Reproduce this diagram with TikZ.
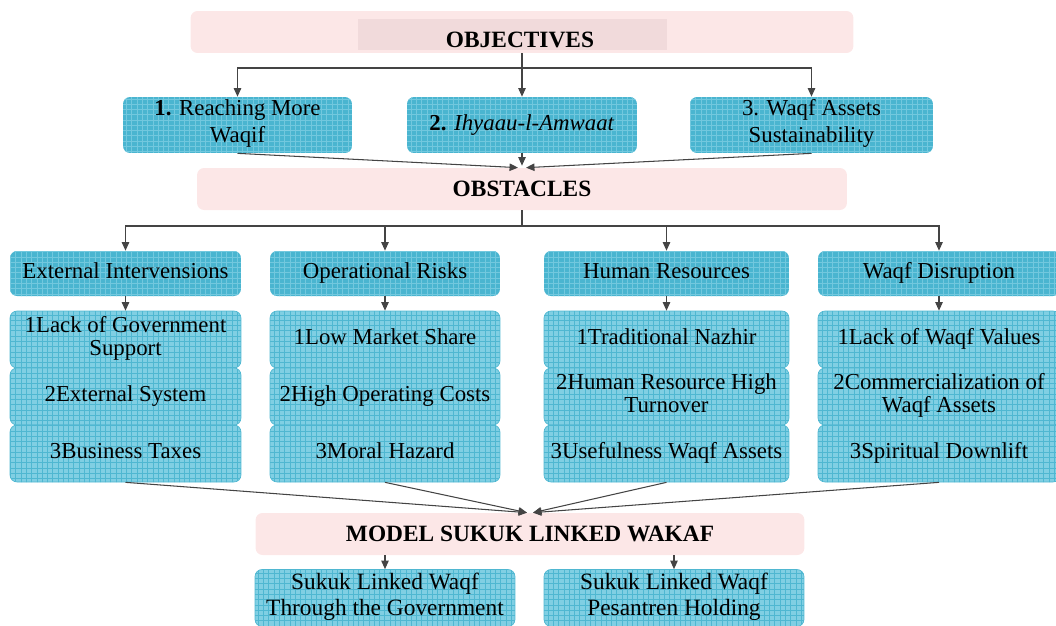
\documentclass[tikz,border=0pt]{standalone}
\usepackage{fontspec}
\setmainfont{Liberation Serif}
\usetikzlibrary{arrows.meta,patterns}
\definecolor{headpink}{HTML}{FCE7E7}
\definecolor{innerpink}{HTML}{F1DADB}
\definecolor{goalcyan}{HTML}{4AB5D0}
\definecolor{goalgrid}{HTML}{72C8DE}
\definecolor{itemcyan}{HTML}{80CFE3}
\definecolor{itemgrid}{HTML}{4FB7D1}
\definecolor{edgegray}{HTML}{444444}
\begin{document}
\begin{tikzpicture}[x=0.02cm,y=-0.02cm,>={Triangle[length=4.8pt,width=4.2pt]}]
        \tikzstyle{head}=[rounded corners=4pt,fill=headpink,inner sep=0pt,font=\fontsize{13.3}{15}\selectfont\bfseries]
        \tikzstyle{goal}=[rounded corners=4pt,preaction={fill=goalcyan},pattern=grid,pattern color=goalgrid,align=center,inner sep=0pt,execute at begin node=\strut,execute at end node=\strut,font=\fontsize{13}{15.5}\selectfont]
        \tikzstyle{item}=[rounded corners=4pt,draw=itemgrid,line width=0.4pt,preaction={fill=itemcyan},pattern=grid,pattern color=itemgrid,align=center,inner sep=0pt,minimum height=1.14cm,execute at begin node=\strut,execute at end node=\strut,font=\fontsize{13}{13.5}\selectfont]
        \tikzstyle{edge}=[draw,->,line width=0.6pt,edgegray]
        \tikzstyle{line}=[draw,line width=0.6pt,edgegray]
        \useasboundingbox (0,0) rectangle (1056,626);

        % objectives
        \node [head,minimum width=13.26cm,minimum height=0.84cm] (objbox) at (522,32) {};
        \node [fill=innerpink,minimum width=6.18cm,minimum height=0.62cm,inner sep=0pt] (objin) at (512.5,34.5) {};
        \node [head,fill=none] (objectives) at (520,39.5) {OBJECTIVES};
        \node [goal,minimum width=4.58cm,minimum height=1.12cm] (goal1) at (237.5,125) {\textbf{1.} Reaching More\\Waqif};
        \node [goal,minimum width=4.6cm,minimum height=1.12cm] (goal2) at (522,125) {\textbf{2.} \textit{Ihyaau-l-Amwaat}};
        \node [goal,minimum width=4.86cm,minimum height=1.12cm] (goal3) at (811.5,125) {3. Waqf Assets\\Sustainability};
        \coordinate (split1) at (522,68);
        \path[edge] (objbox.south) -- (goal2.north);
        \path[edge] (split1) -| (goal1.north);
        \path[edge] (split1) -| (goal3.north);

        % obstacles
        \node [head,minimum width=13cm,minimum height=0.84cm] (obstacles) at (522,189) {OBSTACLES};
        \path[edge] (goal1.south) -- ([xshift=-0.08cm]obstacles.north);
        \path[edge] (goal2.south) -- ([yshift=0.04cm]obstacles.north);
        \path[edge] (goal3.south) -- ([xshift=0.08cm]obstacles.north);

        \node [goal,minimum width=4.62cm,minimum height=0.9cm] (ext) at (125.5,273.5) {External Intervensions};
        \node [goal,minimum width=4.6cm,minimum height=0.9cm] (ops) at (385,273.5) {Operational Risks};
        \node [goal,minimum width=4.9cm,minimum height=0.9cm] (hr) at (666.5,273.5) {Human Resources};
        \node [goal,minimum width=4.84cm,minimum height=0.9cm] (dis) at (939,273.5) {Waqf Disruption};
        \coordinate (split2) at (522,226);
        \path[line] (obstacles.south) -- (split2);
        \path[edge] (split2) -| (ext.north);
        \path[edge] (split2) -| (ops.north);
        \path[edge] (split2) -| (hr.north);
        \path[edge] (split2) -| (dis.north);

        \node [item,minimum width=4.62cm] (ext1) at (125.5,339.5) {1Lack of Government\\Support};
        \node [item,minimum width=4.62cm] (ext2) at (125.5,396.5) {2External System};
        \node [item,minimum width=4.62cm] (ext3) at (125.5,453.5) {3Business Taxes};
        \node [item,minimum width=4.6cm] (ops1) at (385,339.5) {1Low Market Share};
        \node [item,minimum width=4.6cm] (ops2) at (385,396.5) {2High Operating Costs};
        \node [item,minimum width=4.6cm] (ops3) at (385,453.5) {3Moral Hazard};
        \node [item,minimum width=4.9cm] (hr1) at (666.5,339.5) {1Traditional Nazhir};
        \node [item,minimum width=4.9cm] (hr2) at (666.5,396.5) {2Human Resource High\\Turnover};
        \node [item,minimum width=4.9cm] (hr3) at (666.5,453.5) {3Usefulness Waqf Assets};
        \node [item,minimum width=4.84cm] (dis1) at (939,339.5) {1Lack of Waqf Values};
        \node [item,minimum width=4.84cm] (dis2) at (939,396.5) {2Commercialization of\\Waqf Assets};
        \node [item,minimum width=4.84cm] (dis3) at (939,453.5) {3Spiritual Downlift};
        \path[edge] (ext.south) -- (ext1.north);
        \path[edge] (ops.south) -- (ops1.north);
        \path[edge] (hr.south) -- (hr1.north);
        \path[edge] (dis.south) -- (dis1.north);

        % model
        \node [head,minimum width=10.98cm,minimum height=0.84cm] (model) at (530,534) {MODEL SUKUK LINKED WAKAF};
        \path[edge] (ext3.south) -- ([xshift=-0.06cm]model.north);
        \path[edge] (ops3.south) -- ([xshift=-0.06cm]model.north);
        \path[edge] (hr3.south) -- ([xshift=0.06cm]model.north);
        \path[edge] (dis3.south) -- ([xshift=0.06cm]model.north);

        \node [item,minimum width=5.2cm,font=\fontsize{13.3}{15}\selectfont] (gov) at (385,598) {Sukuk Linked Waqf\\Through the Government};
        \node [item,minimum width=5.2cm,font=\fontsize{13.3}{15}\selectfont] (pes) at (674,598) {Sukuk Linked Waqf\\Pesantren Holding};
        \path[edge] (gov.north |- model.south) -- (gov.north);
        \path[edge] (pes.north |- model.south) -- (pes.north);
\end{tikzpicture}
\end{document}
